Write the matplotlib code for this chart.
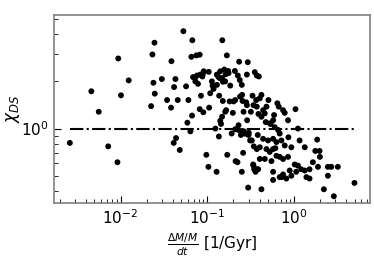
import numpy as np
import matplotlib
matplotlib.use("Agg")
import matplotlib.pyplot as plt

# mass growth rate dM/M/dt [1/Gyr] and chi_DS
rate = [
    0.0026, 0.0046, 0.0056, 0.0072, 0.0092, 0.0094, 0.0101, 0.0124, 0.0225, 0.0233,
    0.0239, 0.0246, 0.0248, 0.0299, 0.0344, 0.0382, 0.0386, 0.0410, 0.0414, 0.0429,
    0.0436, 0.0456, 0.0481, 0.0530, 0.0569, 0.0589, 0.0605, 0.0638, 0.0655, 0.0672,
    0.0667, 0.0685, 0.0728, 0.0748, 0.0761, 0.0781, 0.0817, 0.0817, 0.0846, 0.0877,
    0.0892, 0.0900, 0.0975, 0.103, 0.104, 0.105, 0.108, 0.115, 0.118, 0.124,
    0.128, 0.130, 0.135, 0.136, 0.137, 0.141, 0.141, 0.144, 0.149, 0.151,
    0.151, 0.157, 0.163, 0.165, 0.168, 0.170, 0.174, 0.181, 0.184, 0.191,
    0.197, 0.201, 0.208, 0.212, 0.223, 0.225, 0.229, 0.233, 0.237, 0.244,
    0.250, 0.252, 0.255, 0.259, 0.264, 0.271, 0.281, 0.288, 0.293, 0.296,
    0.301, 0.312, 0.318, 0.332, 0.338, 0.344, 0.347, 0.353, 0.360, 0.366,
    0.372, 0.382, 0.389, 0.393, 0.421, 0.403, 0.440, 0.421, 0.460, 0.481,
    0.643, 0.667, 0.589, 0.574, 0.748, 0.781, 1.04, 0.853, 0.525, 0.600,
    0.655, 0.684, 1.11, 0.440, 0.502, 0.574, 0.627, 0.715, 0.781, 0.932,
    1.16, 1.85, 1.33, 1.76, 1.97, 0.403, 0.481, 0.525, 0.574, 0.627,
    0.684, 0.748, 0.853, 0.403, 0.460, 0.549, 1.02, 1.11, 1.21, 1.33,
    1.51, 1.65, 1.89, 2.46, 2.69, 3.20, 0.574, 0.574, 0.684, 0.748,
    0.816, 0.892, 0.932, 1.06, 1.39, 1.51, 2.46, 0.421, 2.21, 2.88,
    4.98, 0.386, 0.472, 0.539, 0.610, 0.721, 1.99, 0.861, 0.507, 0.372,
    0.083, 0.091, 0.129, 0.141, 0.176, 0.148, 0.161, 0.286, 0.113, 0.129,
    0.0728, 0.250, 0.210, 0.239, 0.286, 0.341, 0.161, 0.148, 0.262, 0.210,
    0.229, 0.250, 0.273, 0.326, 0.372, 0.341, 0.372, 0.299,
]
chi_ds = [
    0.81, 1.73, 1.28, 0.77, 0.61, 2.80, 1.63, 2.03, 1.39, 2.97,
    1.96, 3.53, 1.67, 2.07, 1.52, 1.36, 2.69, 0.81, 1.84, 2.07,
    0.87, 1.52, 0.73, 4.18, 1.86, 1.09, 1.52, 0.96, 2.87, 3.66,
    1.21, 2.13, 2.12, 2.93, 2.18, 1.93, 2.96, 1.33, 1.62, 2.15,
    2.24, 1.27, 0.68, 0.57, 2.30, 1.36, 1.68, 1.88, 1.79, 1.00,
    0.53, 2.20, 2.13, 0.89, 1.62, 1.12, 2.09, 1.07, 3.66, 1.99,
    1.50, 2.38, 2.22, 1.31, 2.93, 0.68, 2.33, 1.49, 1.88, 0.93,
    1.26, 1.49, 2.33, 0.62, 0.61, 2.18, 1.05, 2.67, 2.04, 0.91,
    0.53, 1.64, 1.50, 0.70, 0.96, 0.93, 1.47, 1.13, 2.65, 0.42,
    0.94, 0.84, 1.28, 1.62, 0.59, 0.77, 0.55, 2.29, 0.53, 1.52,
    2.18, 0.91, 1.24, 2.15, 1.64, 1.56, 1.31, 1.19, 1.25, 1.38,
    1.45, 1.38, 1.22, 1.13, 1.31, 1.26, 1.33, 1.13, 1.08, 1.02,
    0.98, 0.93, 1.00, 0.86, 0.84, 0.86, 0.82, 0.84, 0.78, 0.76,
    0.84, 0.85, 0.76, 0.72, 0.72, 0.76, 0.74, 0.71, 0.74, 0.67,
    0.66, 0.64, 0.66, 0.64, 0.64, 0.62, 0.59, 0.58, 0.55, 0.54,
    0.55, 0.61, 0.57, 0.57, 0.57, 0.57, 0.53, 0.47, 0.49, 0.51,
    0.48, 0.54, 0.50, 0.53, 0.49, 0.48, 0.50, 0.41, 0.41, 0.37,
    0.45, 0.55, 1.10, 1.07, 0.75, 0.49, 0.66, 0.88, 1.52, 1.38,
    2.21, 2.32, 2.21, 2.32, 2.26, 2.10, 2.00, 2.21, 2.00, 1.90,
    2.00, 1.90, 1.52, 1.60, 1.41, 1.41, 1.28, 1.19, 1.28, 0.99,
    0.98, 0.95, 0.93, 0.84, 0.74, 0.58, 0.55, 0.91,
]

x = np.array(rate)
y = np.array(chi_ds)

fig = plt.figure(figsize=(3.74, 2.64), dpi=100)
ax = fig.add_axes([0.144, 0.231, 0.845, 0.712])

ax.scatter(x, y, s=18, c="black", edgecolors="none", zorder=3)
ax.plot([x.min(), x.max()], [1, 1], color="black", linestyle="-.", lw=1.5)

ax.set_xscale("log")
ax.set_yscale("log")
ax.set_xlim(0.0017, 7.5)
ax.set_ylim(0.335, 5.3)

for sp in ax.spines.values():
    sp.set_color("gray")
    sp.set_linewidth(1.2)
ax.tick_params(which="both", direction="in", top=False, right=False,
               labelsize=11, color="black")
ax.tick_params(which="major", length=5)
ax.tick_params(which="minor", length=3)

ax.set_xlabel(r"$\frac{\Delta M/M}{dt}$ [1/Gyr]", fontsize=11)
ax.set_ylabel(r"$\chi_{DS}$", fontsize=12, va="center")
ax.yaxis.set_label_coords(-0.13, 0.5)

fig.savefig("out.png", dpi=100)
